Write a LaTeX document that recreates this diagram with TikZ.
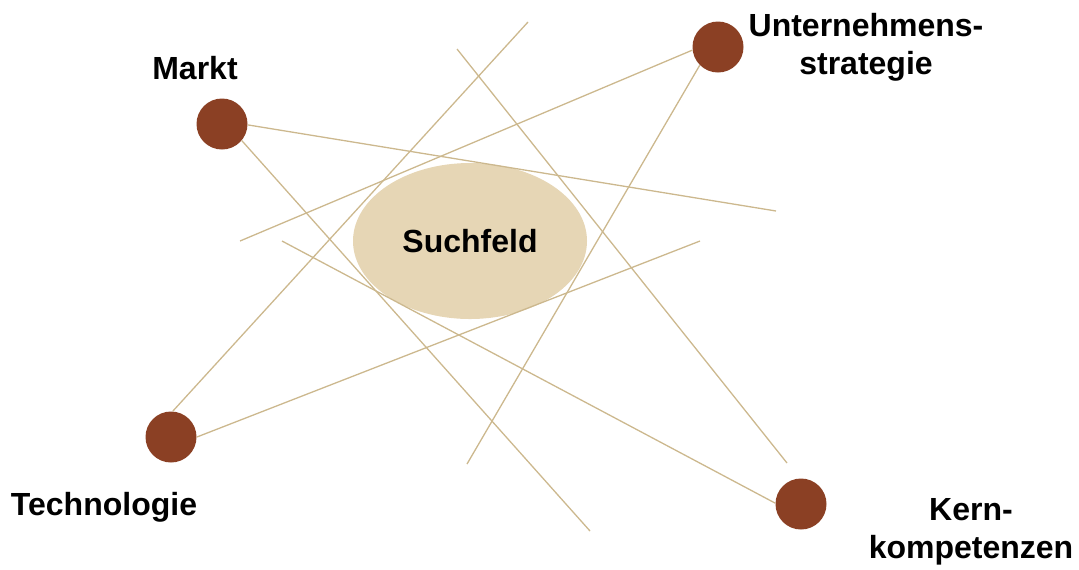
\documentclass[tikz,border=0pt]{standalone}
\usepackage{fontspec}
\setmainfont{Liberation Sans}
\usetikzlibrary{shapes.geometric}
\definecolor{punktbraun}{RGB}{139,64,36}
\definecolor{fadenbeige}{RGB}{204,184,142}
\definecolor{feldbeige}{RGB}{230,214,181}
\begin{document}
\begin{tikzpicture}[x=0.5pt,y=-0.5pt,
    punkt/.style={circle,fill=punktbraun,inner sep=0pt,minimum size=25.5pt},
    faden/.style={color=fadenbeige,line width=0.65pt},
    feldoval/.style={ellipse,fill=feldbeige,inner sep=0pt,
      minimum width=117pt,minimum height=78pt,
      font=\fontsize{16}{19}\selectfont\bfseries},
    beschr/.style={font=\fontsize{16}{19}\selectfont\bfseries,align=center}]
        \useasboundingbox (0,0) rectangle (1079,569) ;
        % Suchfeld
        \node[feldoval] (suchfeld) at (470,241) {Suchfeld} ;
        % die vier Punkte
        \node[punkt] (markt) at (222,124) {} ;
        \node[punkt] (strategie) at (718,47) {} ;
        \node[punkt] (technologie) at (171,437) {} ;
        \node[punkt] (kern) at (801,504) {} ;
        % freie Enden der Linien
        \coordinate (mEnde1) at (776,211) ;
        \coordinate (mEnde2) at (590,531) ;
        \coordinate (sEnde1) at (240,241) ;
        \coordinate (sEnde2) at (467,464) ;
        \coordinate (tEnde1) at (528,22) ;
        \coordinate (tEnde2) at (700,241) ;
        \coordinate (kEnde1) at (282,241) ;
        \coordinate (freiA) at (787,463) ;
        \coordinate (freiB) at (457,49) ;
        \draw[faden] (markt.-2) -- (mEnde1) ;
        \draw[faden] (markt.-40) -- (mEnde2) ;
        \draw[faden] (strategie.187) -- (sEnde1) ;
        \draw[faden] (strategie.225) -- (sEnde2) ;
        \draw[faden] (technologie.86) -- (tEnde1) ;
        \draw[faden] (technologie.0) -- (tEnde2) ;
        \draw[faden] (kern.178) -- (kEnde1) ;
        \draw[faden] (freiA) -- (freiB) ;
        % Beschriftungen
        \node[beschr,anchor=base] (marktText) at (195,79) {Markt} ;
        \node[beschr] (strategieText) at (866,47) {Unternehmens-\\strategie} ;
        \node[beschr,anchor=base] (technologieText) at (104,515) {Technologie} ;
        \node[beschr] (kernText) at (971,532) {Kern-\\kompetenzen} ;
\end{tikzpicture}
\end{document}
